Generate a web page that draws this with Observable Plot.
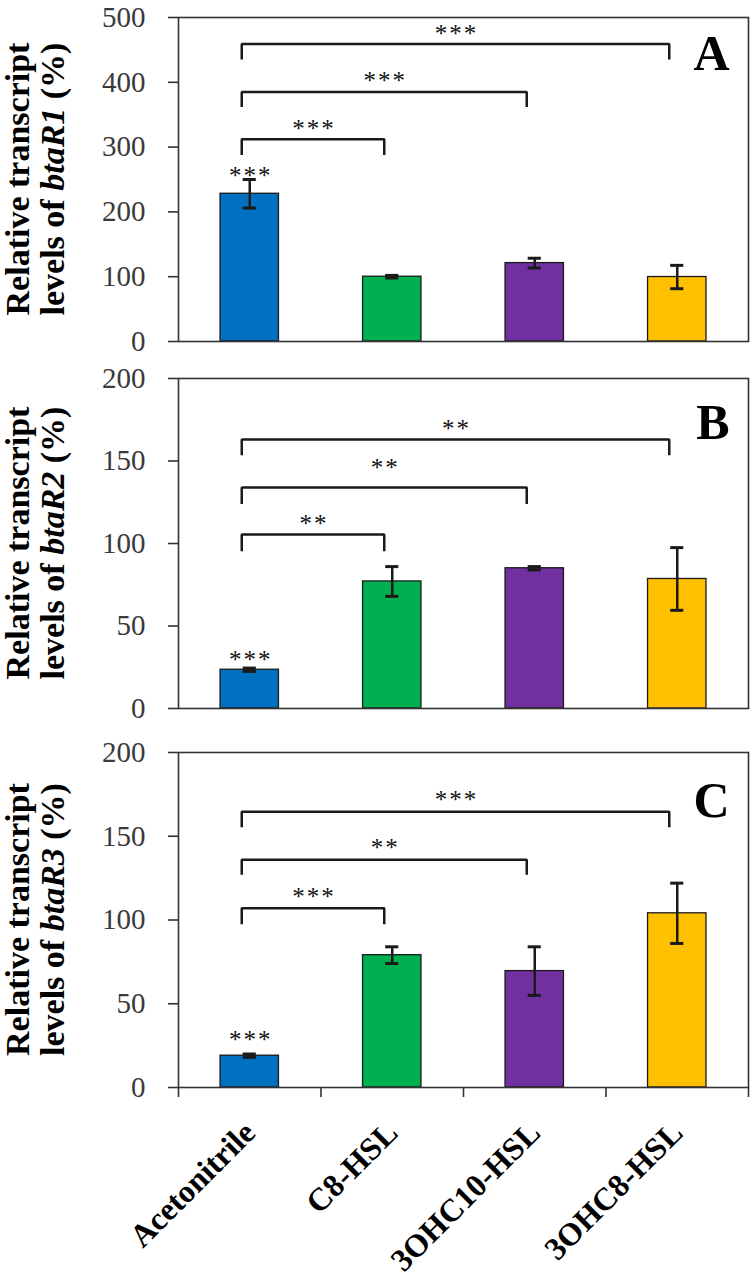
<!DOCTYPE html>
<html><head><meta charset="utf-8">
<script src="https://cdn.jsdelivr.net/npm/d3@7"></script>
<script src="https://cdn.jsdelivr.net/npm/@observablehq/plot@0.6"></script>
<style>
body{margin:0;background:#fff;}
#chart{width:750px;}
#chart svg{display:block;}
</style></head><body><div id="chart"></div>
<script>
// ---- data ----
const categories = ["Acetonitrile", "C8-HSL", "3OHC10-HSL", "3OHC8-HSL"];
const barColors = ["#0070C0", "#00B050", "#7030A0", "#FFC000"];
const genes = ["btaR1", "btaR2", "btaR3"];
const panelLetters = ["A", "B", "C"];
const yMaxes = [500, 200, 200];
const yTickSteps = [100, 50, 50];

const meansA = [228, 100, 121, 99.5];
const errA   = [22, 2, 7.5, 18];
const meansB = [23.5, 77, 85, 78.5];
const errB   = [1, 9, 1, 19];
const meansC = [19, 79, 69.5, 104];
const errC   = [1, 5, 14.5, 18];

// significance of Acetonitrile bar (label value)
const barStarLabel = ["***", "***", "***"];
const barStarY = [262, 32, 31];

// brackets: Acetonitrile vs. each treatment (index of treatment)
const bracketTo = [1, 2, 3];
const bracketTopA = [312, 385, 459], bracketLegA = [288, 362, 435], bracketTextYA = [334, 408, 481];
const bracketLabelA = ["***", "***", "***"];
const bracketTopB = [105.5, 134, 163], bracketLegB = [95.3, 124, 153.5], bracketTextYB = [114, 148, 172];
const bracketLabelB = ["**", "**", "**"];
const bracketTopC = [107, 136, 164.7], bracketLegC = [97.4, 127, 155.3], bracketTextYC = [116, 145.3, 173.8];
const bracketLabelC = ["***", "**", "***"];

// panel letter vertical position (in data units)
const letterY = [443, 173, 171];

// ---- layout / style ----
const W = 750;
const heights = [360, 360, 556];
const mTop = [17, 18, 32];
const mBottom = [19, 12, 189];
const barWidth = 0.41;   // fraction of category step
const capHalf = 0.046;   // half width of error-bar caps (category units)
const serif = "'Liberation Serif', 'Times New Roman', serif";
const ink = "#1a1a1a";

const panels = [
  {means: meansA, err: errA, top: bracketTopA, leg: bracketLegA, ty: bracketTextYA, lab: bracketLabelA},
  {means: meansB, err: errB, top: bracketTopB, leg: bracketLegB, ty: bracketTextYB, lab: bracketLabelB},
  {means: meansC, err: errC, top: bracketTopC, leg: bracketLegC, ty: bracketTextYC, lab: bracketLabelC}
];

const spaced = s => s.split("").join("\u200A");
const root = document.getElementById("chart");

panels.forEach((p, k) => {
  const bars = categories.map((c, i) => ({i, cat: c, mean: p.means[i], err: p.err[i], color: barColors[i]}));
  const linePts = [];
  bracketTo.forEach((to, j) => {
    linePts.push({id: j, x: 0, y: p.leg[j]}, {id: j, x: 0, y: p.top[j]},
                 {id: j, x: to, y: p.top[j]}, {id: j, x: to, y: p.leg[j]});
  });
  const bracketText = bracketTo.map((to, j) => ({x: to / 2, y: p.ty[j], t: spaced(p.lab[j])}));
  const isLast = k === 2;

  const marks = [
    Plot.rect(bars, {x1: d => d.i - barWidth / 2, x2: d => d.i + barWidth / 2, y1: () => 0, y2: "mean",
      fill: "color", stroke: ink, strokeWidth: 1.3}),
    Plot.ruleX(bars, {x: "i", y1: d => d.mean - d.err, y2: d => d.mean + d.err, stroke: ink, strokeWidth: 2.5}),
    Plot.ruleY(bars, {y: d => d.mean + d.err, x1: d => d.i - capHalf, x2: d => d.i + capHalf, stroke: ink, strokeWidth: 3}),
    Plot.ruleY(bars, {y: d => d.mean - d.err, x1: d => d.i - capHalf, x2: d => d.i + capHalf, stroke: ink, strokeWidth: 3}),
    Plot.line(linePts, {x: "x", y: "y", z: "id", stroke: ink, strokeWidth: 2.5, dx: -8,
      strokeLinejoin: "miter", strokeLinecap: "butt"}),
    Plot.text(bracketText, {x: "x", y: "y", text: "t", dx: -8, dy: 4, fontSize: 25, fill: "#111",
      fontFamily: serif, lineAnchor: "middle"}),
    Plot.text([{x: 0, y: barStarY[k], t: spaced(barStarLabel[k])}], {x: "x", y: "y", text: "t", dy: 4,
      fontSize: 25, fill: "#111", fontFamily: serif, lineAnchor: "middle"}),
    Plot.text([panelLetters[k]], {frameAnchor: "right", y: () => letterY[k], text: d => d, dx: -19,
      textAnchor: "end", lineAnchor: "middle", fontSize: 50, fontWeight: "bold", fontFamily: serif, fill: "#000"}),
    Plot.frame({stroke: "#333", strokeWidth: 1.6}),
    Plot.axisY({ticks: d3.range(0, yMaxes[k] + 1, yTickSteps[k]), tickSize: 10, tickPadding: 23,
      fontSize: 29, fontFamily: serif, fill: "#3a3a3a", stroke: "#333", strokeWidth: 1.6, label: null, tickFormat: d => d})
  ];
  if (isLast) {
    marks.push(
      Plot.axisX({ticks: d3.range(-0.5, categories.length, 1), tickSize: 10, tickFormat: () => "",
        stroke: "#333", strokeWidth: 1.6, label: null}),
      Plot.axisX({ticks: d3.range(0, categories.length), tickSize: 0, tickPadding: 0, tickRotate: -45,
        tickFormat: i => categories[i], fontSize: 32, fontWeight: "bold", fontFamily: serif, fill: "#000",
        dx: 0, dy: 40, label: null})
    );
  }

  const svg = Plot.plot({
    width: W, height: heights[k],
    marginLeft: 178, marginRight: 2, marginTop: mTop[k], marginBottom: mBottom[k],
    style: {fontFamily: serif, background: "#fff", overflow: "visible"},
    x: {type: "linear", domain: [-0.5, categories.length - 0.5], axis: isLast ? undefined : null, label: null},
    y: {domain: [0, yMaxes[k]], label: null},
    marks
  });

  // two-line y-axis title with italic gene name
  const cy = (mTop[k] + heights[k] - mBottom[k]) / 2;
  const t = d3.select(svg).append("text")
    .attr("transform", `translate(0,${cy}) rotate(-90)`)
    .attr("text-anchor", "middle")
    .attr("font-family", serif).attr("font-weight", "bold").attr("font-size", 34).attr("fill", "#000");
  t.append("tspan").attr("x", 0).attr("y", 29).text("Relative transcript");
  const l2 = t.append("tspan").attr("x", 0).attr("y", 64);
  l2.append("tspan").text("levels of ");
  l2.append("tspan").attr("font-style", "italic").text(genes[k]);
  l2.append("tspan").text(" (%)");

  root.appendChild(svg);
});
</script></body></html>
